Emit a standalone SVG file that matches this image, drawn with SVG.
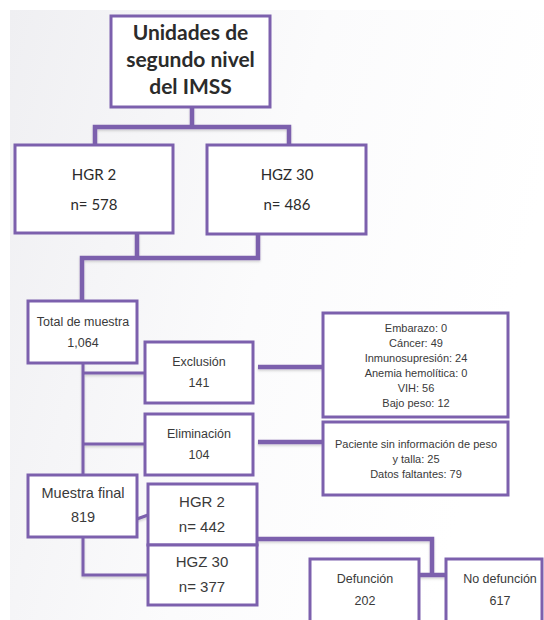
<svg xmlns="http://www.w3.org/2000/svg" width="544" height="620" viewBox="0 0 544 620">
<defs>
<linearGradient id="bg" x1="0" y1="0" x2="1" y2="0.3">
<stop offset="0" stop-color="#efeff2"/>
<stop offset="0.55" stop-color="#fbfbfc"/>
<stop offset="1" stop-color="#ffffff"/>
</linearGradient>
<filter id="sh" x="-10%" y="-50%" width="120%" height="300%">
<feDropShadow dx="0" dy="1.5" stdDeviation="1" flood-color="#000" flood-opacity="0.18"/>
</filter>
</defs>
<style>
.box{fill:#ffffff;stroke:#7c60ad;stroke-width:3}
.con{fill:none;stroke:#7c60ad;stroke-linejoin:miter}
.thick{stroke-width:4.5}
.thin{stroke-width:3}
.t{font-family:"Liberation Sans",Arial,sans-serif;fill:#3a3a3a;text-anchor:middle}
.c{font-family:Lato,"Liberation Sans",sans-serif;fill:#2b2b2b;text-anchor:middle}
</style>
<rect x="10" y="10" width="534" height="610" fill="url(#bg)"/>

<g id="connectors" filter="url(#sh)">
<path class="con thick" d="M192,107 V127 M95,145 V127 H289 V145"/>
<path class="con thick" d="M137,233 V258 M258,233 V258 H82 V300"/>
<path class="con thin" d="M83,363 V475 M83,373 H145 M83,444 H145"/>
<path class="con thick" d="M258,367 H322 M258,442 H322"/>
<path class="con thin" d="M137,519 L148,515 M83,537 V575 H148"/>
<path class="con thick" d="M257,539 H432 V574 M419,575 H446"/>
</g>

<g id="n-top">
<rect class="box" x="111" y="16" width="159" height="91"/>
<text class="c" x="190.5" y="40" font-size="21" font-weight="bold">Unidades de</text>
<text class="c" x="190.5" y="67" font-size="21" font-weight="bold">segundo nivel</text>
<text class="c" x="190.5" y="94" font-size="21" font-weight="bold">del IMSS</text>
</g>

<g id="n-hgr2a">
<rect class="box" x="15" y="145" width="158" height="88"/>
<text class="c" x="94" y="180" font-size="15">HGR 2</text>
<text class="c" x="94" y="210" font-size="15">n= 578</text>
</g>

<g id="n-hgz30a">
<rect class="box" x="207" y="145" width="159" height="89"/>
<text class="c" x="287" y="180" font-size="15">HGZ 30</text>
<text class="c" x="287" y="210" font-size="15">n= 486</text>
</g>

<g id="n-total">
<rect class="box" x="28" y="301" width="109" height="62"/>
<text class="t" x="83" y="326" font-size="12.5">Total de muestra</text>
<text class="t" x="83" y="347" font-size="12.5">1,064</text>
</g>

<g id="n-exclusion">
<rect class="box" x="145" y="342" width="108" height="61"/>
<text class="t" x="199" y="366" font-size="12.5">Exclusión</text>
<text class="t" x="199" y="387" font-size="12.5">141</text>
</g>

<g id="n-eliminacion">
<rect class="box" x="145" y="414" width="108" height="61"/>
<text class="t" x="199" y="438" font-size="12.5">Eliminación</text>
<text class="t" x="199" y="459" font-size="12.5">104</text>
</g>

<g id="n-exclusion-detail">
<rect class="box" x="323" y="313" width="185" height="104"/>
<text class="t" x="416" y="332" font-size="11">Embarazo: 0</text>
<text class="t" x="416" y="347" font-size="11">Cáncer: 49</text>
<text class="t" x="416" y="362" font-size="11">Inmunosupresión: 24</text>
<text class="t" x="416" y="377" font-size="11">Anemia hemolítica: 0</text>
<text class="t" x="416" y="392" font-size="11">VIH: 56</text>
<text class="t" x="416" y="407" font-size="11">Bajo peso: 12</text>
</g>

<g id="n-eliminacion-detail">
<rect class="box" x="323" y="422" width="185" height="73"/>
<text class="t" x="416" y="448" font-size="11">Paciente sin información de peso</text>
<text class="t" x="416" y="463" font-size="11">y talla: 25</text>
<text class="t" x="416" y="478" font-size="11">Datos faltantes: 79</text>
</g>

<g id="n-final">
<rect class="box" x="28" y="475" width="109" height="62"/>
<text class="t" x="83" y="498" font-size="14.5">Muestra final</text>
<text class="t" x="83" y="522" font-size="14.5">819</text>
</g>

<g id="n-hgr2b">
<rect class="box" x="148" y="484" width="109" height="61"/>
<text class="t" x="202" y="507" font-size="15">HGR 2</text>
<text class="t" x="202" y="532" font-size="15">n= 442</text>
</g>

<g id="n-hgz30b">
<rect class="box" x="148" y="545" width="109" height="60"/>
<text class="t" x="202" y="567" font-size="15">HGZ 30</text>
<text class="t" x="202" y="592" font-size="15">n= 377</text>
</g>

<g id="n-defuncion">
<rect class="box" x="310" y="559" width="109" height="66"/>
<text class="t" x="365" y="583" font-size="12.5">Defunción</text>
<text class="t" x="365" y="605" font-size="12.5">202</text>
</g>

<g id="n-nodefuncion">
<rect class="box" x="446" y="559" width="96" height="66"/>
<text class="t" x="500" y="583" font-size="12.5">No defunción</text>
<text class="t" x="500" y="605" font-size="12.5">617</text>
</g>
</svg>
